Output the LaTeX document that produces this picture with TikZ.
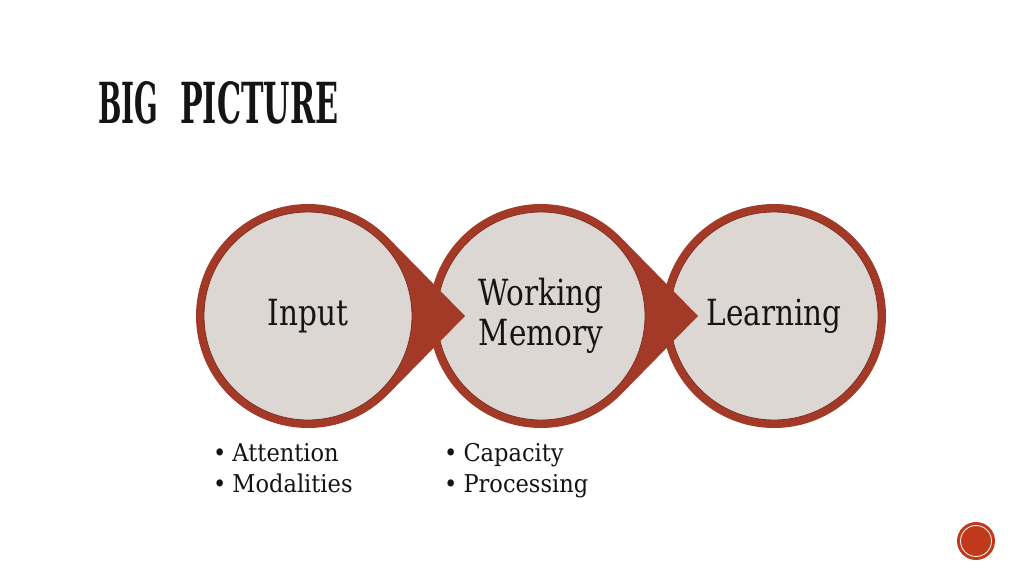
\documentclass[tikz,border=0pt]{standalone}
\usepackage{fontspec}
\setmainfont{DejaVu Serif}[FakeStretch=0.82]
\newfontfamily\bulletfont{DejaVu Serif}[FakeStretch=0.92]
\newfontfamily\titlefont{DejaVu Serif}
\usetikzlibrary{calc}
\definecolor{rust}{RGB}{163,58,40}
\definecolor{paper}{RGB}{221,215,212}
\definecolor{ink}{RGB}{20,20,20}
\definecolor{dotred}{RGB}{192,57,27}
\tikzset{
  ringshape/.style={fill=rust},
  disc/.style={circle, fill=paper, draw=rust!80!black, line width=0.8pt, minimum size=208pt, inner sep=0pt, text=ink, font=\fontsize{36}{42}\selectfont, align=center},
  bullettext/.style={anchor=base west, text=ink, font=\bulletfont\fontsize{24.5}{30}\selectfont, inner sep=0pt},
  titletext/.style={anchor=south west, inner sep=0pt, text=ink},
}
\begin{document}
\begin{tikzpicture}[x=1pt,y=-1pt]
\useasboundingbox[fill=white] (0,0) rectangle (1024,576);
% title
\node[titletext] (title1) at (98,124)
  {\resizebox{60pt}{42pt}{\titlefont\bfseries BIG}};
\node[titletext] (title2) at (180,124)
  {\resizebox{158pt}{42pt}{\titlefont\bfseries PICTURE}};
% circle centres
\coordinate (c1) at (308,316);
\coordinate (c2) at (541,316);
\coordinate (c3) at (774,316);
% third circle
\fill[ringshape] (c3) circle[radius=112];
\node[disc] (learn) at (c3) {Learning};
% second circle with pointer
\coordinate (t2) at ($(c2)+(157,0)$);
\fill[ringshape] (t2) -- ($(c2)+(44.5:112)$) arc[start angle=44.5, end angle=315.5, radius=112] -- cycle;
\node[disc] (wm) at (c2) {Working\\[-2pt]Memory};
% first circle with pointer
\coordinate (t1) at ($(c1)+(157,0)$);
\fill[ringshape] (t1) -- ($(c1)+(44.5:112)$) arc[start angle=44.5, end angle=315.5, radius=112] -- cycle;
\node[disc] (inp) at (c1) {Input};
% bullets
\node[bullettext] (b1) at (213,461) {\textbullet\hspace{6pt}Attention};
\node[bullettext] (b2) at (213,492) {\textbullet\hspace{6pt}Modalities};
\node[bullettext] (b3) at (444,461) {\textbullet\hspace{6pt}Capacity};
\node[bullettext] (b4) at (444,492) {\textbullet\hspace{6pt}Processing};
% page marker
\node[circle, fill=dotred, minimum size=38pt, inner sep=0pt] (dot) at (976,541) {};
\draw[white, line width=0.8pt] (dot.center) circle[radius=15.5];
\end{tikzpicture}
\end{document}
